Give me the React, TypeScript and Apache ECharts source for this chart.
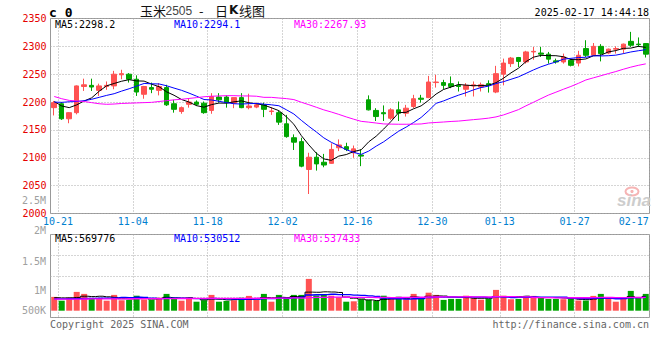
import React, { useEffect, useRef } from "react";
import * as echarts from "echarts";

// ---------- data ----------
const dates = [
  "10-18", "10-21", "10-22", "10-23", "10-24", "10-25", "10-28", "10-29", "10-30", "10-31",
  "11-01", "11-04", "11-05", "11-06", "11-07", "11-08", "11-11", "11-12", "11-13", "11-14",
  "11-15", "11-18", "11-19", "11-20", "11-21", "11-22", "11-25", "11-26", "11-27", "11-28",
  "11-29", "12-02", "12-03", "12-04", "12-05", "12-06", "12-09", "12-10", "12-11", "12-12",
  "12-13", "12-16", "12-17", "12-18", "12-19", "12-20", "12-23", "12-24", "12-25", "12-26",
  "12-27", "12-30", "12-31", "01-02", "01-03", "01-06", "01-07", "01-08", "01-09", "01-10",
  "01-13", "01-14", "01-15", "01-16", "01-17", "01-20", "01-21", "01-22", "01-23", "01-24",
  "01-27", "02-05", "02-06", "02-07", "02-10", "02-11", "02-12", "02-13", "02-14", "02-17",
];

const opens = [
  2190, 2197, 2170, 2181, 2228, 2230, 2221, 2228, 2229, 2249,
  2250, 2241, 2214, 2226, 2221, 2226, 2197, 2183, 2196, 2200,
  2198, 2185, 2209, 2209, 2198, 2208, 2190, 2191, 2195, 2183,
  2181, 2161, 2136, 2129, 2079, 2101, 2092, 2090, 2118, 2120,
  2109, 2105, 2204, 2185, 2181, 2171, 2186, 2180, 2192, 2207,
  2208, 2235, 2235, 2233, 2230, 2223, 2229, 2227, 2233, 2218,
  2250, 2269, 2280, 2272, 2290, 2288, 2286, 2274, 2272, 2275,
  2270, 2296, 2284, 2300, 2288, 2295, 2295, 2309, 2304, 2305,
];
const closes = [
  2199, 2170, 2181, 2229, 2231, 2227, 2229, 2230, 2250, 2251,
  2241, 2218, 2228, 2223, 2228, 2195, 2187, 2190, 2200, 2196,
  2181, 2210, 2204, 2199, 2208, 2190, 2193, 2195, 2187, 2184,
  2164, 2138, 2128, 2085, 2101, 2089, 2087, 2115, 2123, 2115,
  2116, 2103, 2186, 2174, 2179, 2186, 2180, 2189, 2206, 2205,
  2236, 2236, 2230, 2228, 2228, 2230, 2231, 2231, 2231, 2251,
  2270, 2279, 2273, 2290, 2291, 2286, 2277, 2272, 2281, 2266,
  2284, 2284, 2300, 2287, 2295, 2296, 2304, 2302, 2303, 2286,
];
const lows = [
  2176, 2168, 2162, 2178, 2220, 2220, 2211, 2222, 2223, 2241,
  2235, 2211, 2206, 2216, 2212, 2193, 2181, 2179, 2190, 2193,
  2179, 2179, 2199, 2190, 2189, 2189, 2187, 2189, 2173, 2177,
  2159, 2136, 2114, 2083, 2035, 2077, 2083, 2089, 2112, 2112,
  2100, 2085, 2185, 2166, 2166, 2168, 2166, 2174, 2189, 2199,
  2207, 2226, 2223, 2225, 2219, 2210, 2210, 2219, 2217, 2216,
  2230, 2263, 2263, 2269, 2276, 2281, 2269, 2269, 2269, 2264,
  2264, 2281, 2283, 2273, 2286, 2287, 2287, 2299, 2299, 2280,
];
const highs = [
  2202, 2200, 2182, 2230, 2242, 2242, 2233, 2237, 2256, 2258,
  2252, 2248, 2229, 2235, 2234, 2231, 2204, 2192, 2207, 2203,
  2201, 2216, 2216, 2212, 2208, 2216, 2215, 2199, 2199, 2191,
  2184, 2177, 2142, 2136, 2109, 2110, 2107, 2126, 2133, 2127,
  2122, 2115, 2212, 2189, 2194, 2189, 2201, 2195, 2213, 2213,
  2247, 2249, 2240, 2246, 2237, 2234, 2237, 2235, 2239, 2265,
  2278, 2281, 2281, 2292, 2299, 2299, 2290, 2278, 2287, 2278,
  2292, 2311, 2306, 2304, 2296, 2300, 2305, 2326, 2316, 2306,
];
const volumes = [
  552000, 400000, 520000, 752000, 672000, 480000, 472000, 400000, 632000, 416000,
  432000, 600000, 452000, 432000, 520000, 672000, 480000, 400000, 520000, 360000,
  420000, 632000, 360000, 392000, 420000, 520000, 592000, 432000, 672000, 360000,
  632000, 544000, 632000, 632000, 1272000, 608000, 628000, 600000, 540000, 360000,
  376000, 460000, 428000, 400000, 600000, 460000, 560000, 460000, 672000, 472000,
  720000, 632000, 432000, 472000, 472000, 600000, 500000, 440000, 472000, 832000,
  600000, 460000, 472000, 540000, 592000, 544000, 468000, 468000, 460000, 468000,
  408000, 408000, 592000, 672000, 472000, 360000, 512000, 792000, 512000, 672000,
];

// moving-average values before a full window is available
const ma5Head = [2201, 2193, 2190, 2195];
const ma10Head = [2200, 2199.5, 2200.5, 2201, 2202.5, 2205, 2208.5, 2212, 2215];
const ma30Head = [
  2210, 2206, 2203, 2202, 2201, 2199, 2197, 2196, 2196.5, 2197.5,
  2198, 2198.5, 2199, 2199.5, 2201, 2202.5, 2204, 2205, 2206.5, 2208,
  2209.5, 2210.5, 2211, 2211.5, 2211.5, 2211, 2211, 2210.5, 2208.5,
];
const volMa5Head = [520000, 510000, 515000, 530000];
const volMa10Head = [470000, 474000, 478000, 486000, 489000, 496000, 499000, 506000, 511000];
const volMa30Head = [
  462000, 464000, 465000, 467000, 468000, 470000, 472000, 473000, 474000, 476000,
  478000, 479000, 480000, 482000, 484000, 485000, 486000, 488000, 489000, 490000,
  491000, 492000, 494000, 494000, 495000, 496000, 497000, 498000, 498000,
];

const dateLabelIndexes = [1, 11, 21, 31, 41, 51, 60, 70, 79];
const priceMin = 2000;
const priceMax = 2350;
const priceStep = 50;
const volumeTickLabels = ["2.5M", "2M", "1.5M", "1M", "500K"];
const mainLegend = ["MA5:2298.2", "MA10:2294.1", "MA30:2267.93"];
const volLegend = ["MA5:569776", "MA10:530512", "MA30:537433"];
const headerCode = "c 0";
const headerTitleParts = ["玉米", "2505", "-", "日", "K", "线图"];
const headerTime = "2025-02-17 14:44:18";
const footerLeft = "Copyright 2025 SINA.COM";
const footerRight = "http://finance.sina.com.cn";

function movingAverage(values: number[], n: number, head: number[]) {
  return values.map((_, i) => {
    if (i < n - 1) return head[i];
    let s = 0;
    for (let k = i - n + 1; k <= i; k++) s += values[k];
    return +(s / n).toFixed(2);
  });
}

const RED = "#ff5252";
const GREEN = "#00a400";
const MONO = '"DejaVu Sans Mono", "Liberation Mono", monospace';
const CJK = '"Noto Sans CJK SC", sans-serif';
const GRID_LINE = { color: "#aaaaaa", type: [1, 2] as any, width: 1 };

export default function App() {
  const ref = useRef<HTMLDivElement>(null);

  useEffect(() => {
    if (!ref.current) return;
    const chart = echarts.init(ref.current, null, { renderer: "svg" });

    const candleData = dates.map((_, i) => [opens[i], closes[i], lows[i], highs[i]]);
    const ma5 = movingAverage(closes, 5, ma5Head);
    const ma10 = movingAverage(closes, 10, ma10Head);
    const ma30 = movingAverage(closes, 30, ma30Head);
    const vma5 = movingAverage(volumes, 5, volMa5Head);
    const vma10 = movingAverage(volumes, 10, volMa10Head);
    const vma30 = movingAverage(volumes, 30, volMa30Head);
    const volData = volumes.map((v, i) => ({
      value: v,
      itemStyle: { color: closes[i] >= opens[i] ? RED : GREEN },
    }));

    const isLabelIdx = (i: number) => dateLabelIndexes.indexOf(i) >= 0;
    const isGridIdx = (i: number) => isLabelIdx(i) && i !== dates.length - 1;

    const volLabelY = [200.7, 230.7, 261, 290.7, 310];
    const legendX = [55, 174, 294];
    const legendColors = ["#000000", "#0000ff", "#ff00ff"];

    const txt = (text: string, x: number, y: number, fill: string, font: string, align = "left") => ({
      type: "text",
      x,
      y,
      silent: true,
      z: 100,
      style: {
        text,
        fill,
        font,
        align,
        textAlign: align,
        verticalAlign: "middle",
        textVerticalAlign: "middle",
      },
    });

    // title pieces: x positions (left edges) and vertical centres
    const titleX = [140, 165.5, 199, 215, 229, 239];
    const titleY = [10, 10.5, 10, 10, 10, 10];
    const titleFonts = [
      `13px ${CJK}`,
      '12px "Liberation Sans", sans-serif',
      `13px ${CJK}`,
      `13px ${CJK}`,
      `bold 12px "DejaVu Sans", sans-serif`,
      `13px ${CJK}`,
    ];
    const titleFill = ["#111", "#444", "#111", "#111", "#111", "#111"];

    const graphics: any[] = [
      txt(headerCode, 49, 12, "#000", `bold 13px ${MONO}`),
      ...headerTitleParts.map((t, i) => txt(t, titleX[i], titleY[i], titleFill[i], titleFonts[i])),
      txt(headerTime, 649, 12, "#000", `10px ${MONO}`, "right"),
      ...mainLegend.map((t, i) => txt(t, legendX[i], 24.5, legendColors[i], `10px ${MONO}`)),
      ...volLegend.map((t, i) => txt(t, legendX[i], 238.5, legendColors[i], `10px ${MONO}`)),
      ...volumeTickLabels.map((t, i) => txt(t, 46, volLabelY[i], "#a0a0a0", `10px ${MONO}`, "right")),
      txt(footerLeft, 50, 324, "#666", `10px ${MONO}`),
      txt(footerRight, 649, 324, "#666", `10px ${MONO}`, "right"),
      {
        type: "ellipse",
        silent: true,
        z: 1,
        shape: { cx: 632, cy: 191.5, rx: 6.5, ry: 4 },
        style: { fill: "none", stroke: "#f6b4b4", lineWidth: 2 },
      },
      {
        type: "circle",
        silent: true,
        z: 1,
        shape: { cx: 632, cy: 191.5, r: 1.6 },
        style: { fill: "#f6b4b4" },
      },
      {
        ...txt("sina", 651, 200, "#cdcdcd", 'italic bold 17px "Liberation Sans", sans-serif', "right"),
        z: 1,
      },
    ];

    const option: any = {
      animation: false,
      backgroundColor: "#ffffff",
      grid: [
        { left: 50.5, right: 10.5, top: 18.5, height: 195, show: true, borderColor: "#999", borderWidth: 1, backgroundColor: "transparent" },
        { left: 50.5, right: 10.5, top: 234.5, height: 83, show: true, borderColor: "#999", borderWidth: 1, backgroundColor: "transparent" },
      ],
      xAxis: [
        {
          type: "category",
          gridIndex: 0,
          data: dates,
          boundaryGap: true,
          axisLine: { show: false },
          axisTick: { show: false },
          splitLine: { show: true, interval: (i: number) => isGridIdx(i), lineStyle: GRID_LINE },
          axisLabel: {
            interval: (i: number) => isLabelIdx(i),
            margin: 3,
            color: "#0080d0",
            fontFamily: MONO,
            fontSize: 10,
            formatter: (v: string, i: number) => (i === dates.length - 1 ? `{e|${v}}` : `{n|${v}}`),
            rich: {
              n: { color: "#0080d0", fontFamily: MONO, fontSize: 10, padding: [0, 7.5, 0, 0] },
              e: { color: "#0080d0", fontFamily: MONO, fontSize: 10, padding: [0, 24, 0, 0] },
            },
          },
        },
        {
          type: "category",
          gridIndex: 1,
          data: dates,
          boundaryGap: true,
          axisLine: { show: false },
          axisTick: { show: false },
          axisLabel: { show: false },
          splitLine: { show: true, interval: (i: number) => isGridIdx(i), lineStyle: GRID_LINE },
        },
      ],
      yAxis: [
        {
          type: "value",
          gridIndex: 0,
          min: priceMin,
          max: priceMax,
          interval: priceStep,
          axisLine: { show: false },
          axisTick: { show: false },
          axisLabel: {
            color: "#e50000",
            fontFamily: MONO,
            fontSize: 10,
            margin: 4,
            formatter: (v: number) => String(v),
          },
          splitLine: { show: true, lineStyle: GRID_LINE },
        },
        {
          type: "value",
          gridIndex: 1,
          min: 0,
          max: 4,
          interval: 1,
          axisLine: { show: false },
          axisTick: { show: false },
          axisLabel: { show: false },
          splitLine: { show: true, lineStyle: GRID_LINE },
        },
        {
          type: "value",
          gridIndex: 1,
          min: -272000,
          max: 3048000,
          show: false,
          splitLine: { show: false },
        },
      ],
      series: [
        {
          type: "candlestick",
          xAxisIndex: 0,
          yAxisIndex: 0,
          data: candleData,
          barWidth: 5,
          itemStyle: { color: RED, color0: GREEN, borderColor: RED, borderColor0: GREEN, borderWidth: 1 },
        },
        { type: "line", xAxisIndex: 0, yAxisIndex: 0, data: ma5, showSymbol: false, lineStyle: { color: "#000", width: 1 }, z: 3 },
        { type: "line", xAxisIndex: 0, yAxisIndex: 0, data: ma10, showSymbol: false, lineStyle: { color: "#0000ff", width: 1 }, z: 3 },
        { type: "line", xAxisIndex: 0, yAxisIndex: 0, data: ma30, showSymbol: false, lineStyle: { color: "#ff00ff", width: 1 }, z: 3 },
        { type: "bar", xAxisIndex: 1, yAxisIndex: 2, data: volData, barWidth: 6 },
        { type: "line", xAxisIndex: 1, yAxisIndex: 2, data: vma5, step: "middle", showSymbol: false, lineStyle: { color: "#000", width: 1 }, z: 3 },
        { type: "line", xAxisIndex: 1, yAxisIndex: 2, data: vma10, step: "middle", showSymbol: false, lineStyle: { color: "#0000ff", width: 1.3 }, z: 3 },
        { type: "line", xAxisIndex: 1, yAxisIndex: 2, data: vma30, step: "middle", showSymbol: false, lineStyle: { color: "#ff00ff", width: 1.3 }, z: 3 },
      ],
      graphic: graphics,
    };

    chart.setOption(option);
    return () => chart.dispose();
  }, []);

  return (
    <div
      ref={ref}
      style={{ position: "fixed", left: 0, top: 0, width: 660, height: 360, background: "#fff" }}
    />
  );
}
